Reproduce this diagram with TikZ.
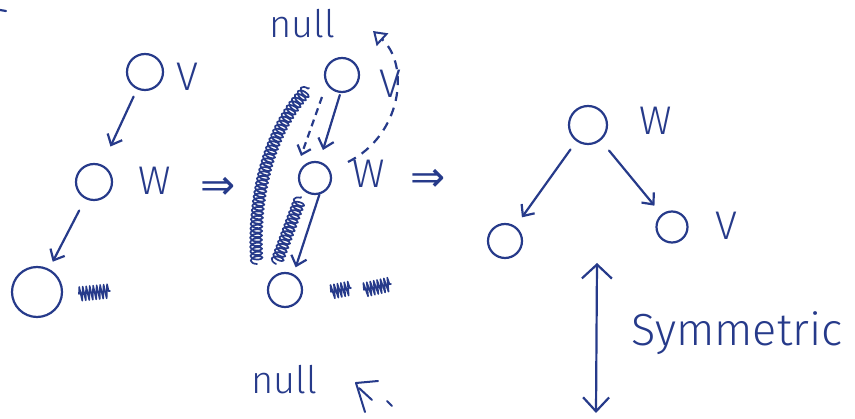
\documentclass[tikz,border=0pt]{standalone}
\usepackage{fontspec}
\setmainfont{Fira Sans Light}
\newfontfamily\symfont{DejaVu Sans}
\usetikzlibrary{arrows.meta,decorations.pathmorphing}
\definecolor{inkc}{RGB}{38,58,138}
\tikzset{
  ink/.style={draw=inkc, line width=2.2pt, line cap=round, line join=round},
  nd/.style={circle, ink, inner sep=0pt},
  arr/.style={ink, -{Straight Barb[length=9pt,width=16pt]}},
  lbl/.style={text=inkc, inner sep=0pt, font=\fontsize{40}{40}\selectfont},
  implies/.style={text=inkc, inner sep=0pt, font=\symfont\fontsize{42}{42}\selectfont},
  nulltxt/.style={text=inkc, inner sep=0pt, font=\fontsize{38}{38}\selectfont},
  scrib/.style={ink, line width=1.6pt, decorate, decoration={zigzag, amplitude=7pt, segment length=3.5pt}},
  coilline/.style={ink, line width=1.7pt, decorate, decoration={coil, amplitude=6pt, segment length=4.5pt, aspect=0.45}},
  dashcurve/.style={ink, dash pattern=on 9pt off 7pt, line cap=butt},
}
\begin{document}
\begin{tikzpicture}[x=1pt,y=-1pt]
\useasboundingbox (0,0) rectangle (855,419);

% ---------- left tree ----------
\draw[ink] (0,10) -- (6,11);
\node[nd, minimum size=36pt] (v1) at (145,72) {};
\node[nd, minimum size=36pt] (w1) at (94,182) {};
\node[nd, minimum size=50pt] (b1) at (37,292) {};
\node[lbl] (lv1) at (187,77) {V};
\node[lbl] (lw1) at (155,181) {W};
\draw[arr, shorten <=8pt, shorten >=20pt] (v1) -- (w1);
\draw[arr, shorten <=13pt, shorten >=8pt] (w1) -- (b1);
\draw[scrib] (79,294) -- (110,291);
\node[implies] (imp1) at (218,188) {⇒};

% ---------- middle tree ----------
\node[nulltxt] (null1) at (302,24) {null};
\node[nd, minimum size=34pt] (v2) at (342,75) {};
\node[nd, minimum size=32pt] (w2) at (315,178) {};
\node[nd, minimum size=34pt] (b2) at (285,290) {};
\node[lbl] (lv2) at (390,84) {V};
\node[lbl] (lw2) at (369,174) {W};
\draw[arr, shorten <=2pt, shorten >=12pt] (v2.-95) -- (w2.75);
\coordinate (d1) at (322,97);
\coordinate (d2) at (301,156);
\draw[dashcurve, -{Straight Barb[length=8pt,width=14pt]}, dash pattern=on 7pt off 5pt] (d1) -- (d2);
\coordinate (e1) at (348,162);
\coordinate (e2) at (373,31);
\draw[dashcurve, -{Triangle[open, length=13pt, width=17pt, line width=2pt]}] (e1) .. controls (402,135) and (410,65) .. (e2);
\draw[arr, shorten >=7pt] (w2.-75) -- (b2.62);
\coordinate (c1) at (257,264);
\coordinate (c2) at (309,88);
\draw[coilline] (c1) .. controls (252,200) and (268,130) .. (c2);
\coordinate (c3) at (276,264);
\coordinate (c4) at (301,197);
\draw[coilline] (c3) -- (c4);
\draw[scrib] (331,292) -- (351,288);
\draw[scrib] (364,290) -- (391,284);
\node[implies] (imp2) at (428,180) {⇒};
\node[nulltxt] (null2) at (284,380) {null};
\draw[ink, line width=2pt] (378,381) -- (356,383) -- (365,412);
\draw[ink, line width=2pt] (359,388) -- (372,400);
\draw[ink, line width=2pt] (387,401) -- (392,406);

% ---------- right tree ----------
\node[nd, minimum size=38pt] (w3) at (588,125) {};
\node[nd, minimum size=34pt] (l3) at (505,241) {};
\node[nd, minimum size=31pt] (v3) at (672,227) {};
\node[lbl] (lw3) at (656,121) {W};
\node[lbl] (lv3) at (726,226) {V};
\draw[arr, shorten <=10pt, shorten >=11pt] (w3) -- (l3);
\draw[arr, shorten <=13pt, shorten >=11pt] (w3) -- (v3);
\coordinate (s1) at (597,263);
\coordinate (s2) at (596,413);
\draw[ink, {Straight Barb[length=14pt,width=30pt]}-{Straight Barb[length=14pt,width=26pt]}] (s1) -- (s2);
\node[text=inkc, inner sep=0pt, anchor=base west, font=\fontsize{45}{45}\selectfont] (sym) at (631,346) {Symmetric};
\end{tikzpicture}
\end{document}
